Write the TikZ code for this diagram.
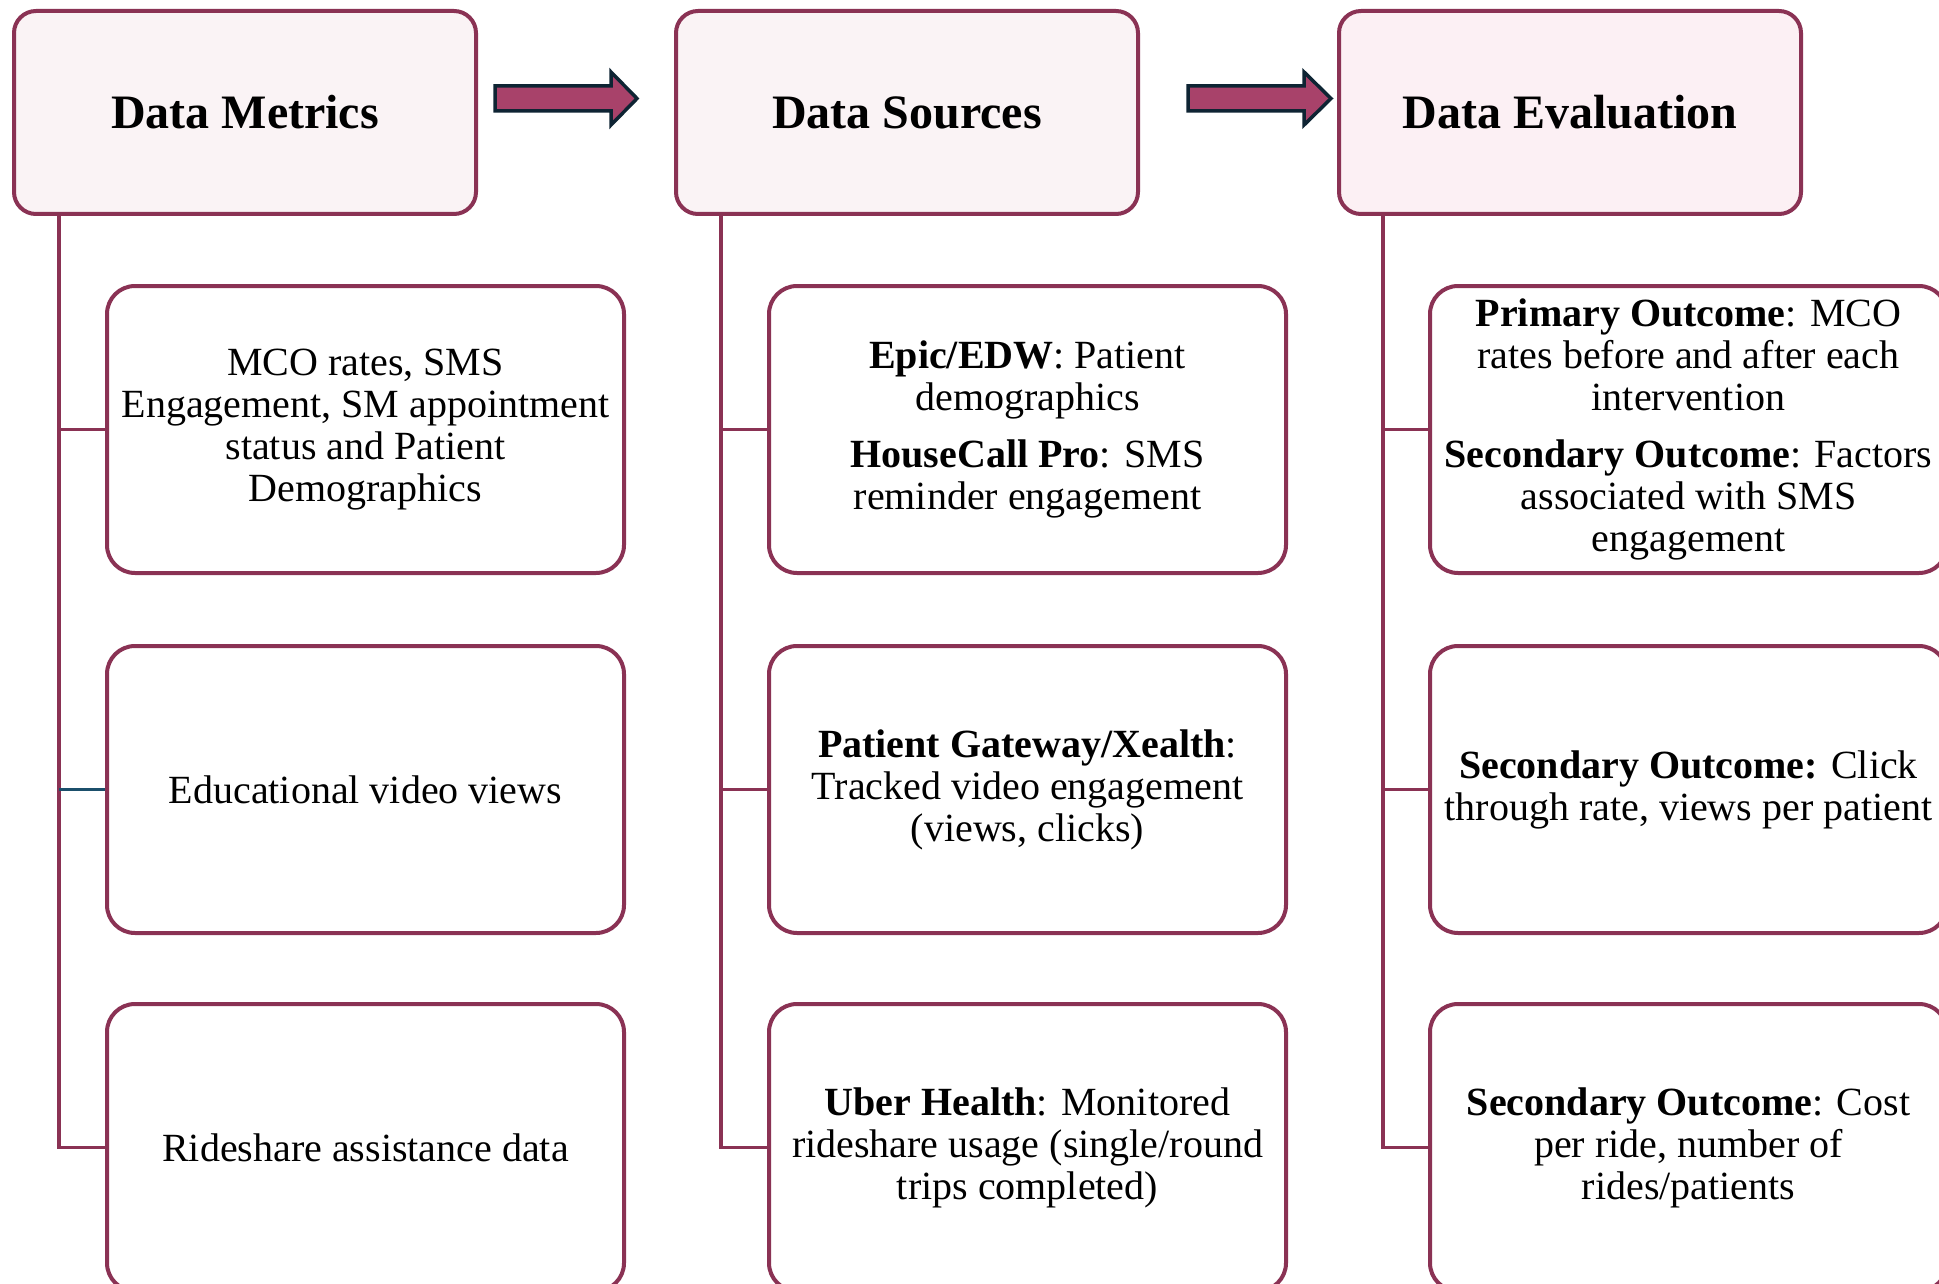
\documentclass[tikz,border=0pt]{standalone}
\usepackage{fontspec}
\setmainfont{Liberation Serif}
\usetikzlibrary{calc}
\definecolor{maroon}{HTML}{8A3254}
\definecolor{headfill}{HTML}{FAF3F5}
\definecolor{headfillb}{HTML}{FCF0F4}
\definecolor{arrowfill}{HTML}{A8426A}
\definecolor{arrowedge}{HTML}{0E2433}
\definecolor{tealline}{HTML}{1B4F6B}
\begin{document}
\begin{tikzpicture}[x=1pt,y=-1pt,
 head/.style={draw=maroon, line width=4pt, rounded corners=22pt, fill=headfill,
   minimum width=462pt, minimum height=203pt, anchor=north west, inner sep=0pt,
   font=\fontsize{48}{50}\selectfont\bfseries},
 itembox/.style={draw=maroon, line width=4pt, rounded corners=28pt, fill=white,
   minimum width=517pt, minimum height=287pt, anchor=north west, inner sep=0pt,
   align=center, font=\fontsize{40}{42}\selectfont},
 link/.style={draw=maroon, line width=3.5pt},
 blockarrow/.style={draw=arrowedge, fill=arrowfill, line width=3.5pt, line join=miter}]
\useasboundingbox (0,0) rectangle (1939,1284);
\clip (0,0) rectangle (1939,1284);

% headers
\node[head] (h1) at (12,9) {Data Metrics};
\node[head] (h2) at (674,9) {Data Sources};
\node[head, fill=headfillb] (h3) at (1337,9) {Data Evaluation};

% block arrows
\draw[blockarrow] (495,86) -- (611,86) -- (611,72) -- (637,98.5) -- (611,125) -- (611,111) -- (495,111) -- cycle;
\draw[blockarrow] (1188,86) -- (1304,86) -- (1304,72) -- (1331,98.5) -- (1304,125) -- (1304,111) -- (1188,111) -- cycle;

% trunk coordinates
\coordinate (t1) at ($(h1.south west)+(47,0)$);
\coordinate (t2) at ($(h2.south west)+(47,0)$);
\coordinate (t3) at ($(h3.south west)+(46,0)$);

% column 1
\node[itembox] (a1) at (105,284) {MCO rates, SMS\\Engagement, SM appointment\\status and Patient\\Demographics};
\node[itembox] (a2) at (105,644) {Educational video views};
\node[itembox] (a3) at (105,1002) {Rideshare assistance data};

% column 2
\node[itembox] (b1) at (767,284) {\textbf{Epic/EDW}: Patient\\demographics\\[15pt]\textbf{HouseCall Pro}: SMS\\reminder engagement};
\node[itembox] (b2) at (767,644) {\textbf{Patient Gateway/Xealth}:\\Tracked video engagement\\(views, clicks)};
\node[itembox] (b3) at (767,1002) {\textbf{Uber Health}: Monitored\\rideshare usage (single/round\\trips completed)};

% column 3
\node[itembox] (c1) at (1428,284) {\textbf{Primary Outcome}: MCO\\rates before and after each\\intervention\\[15pt]\textbf{Secondary Outcome}: Factors\\associated with SMS\\engagement};
\node[itembox] (c2) at (1428,644) {\textbf{Secondary Outcome:} Click\\through rate, views per patient};
\node[itembox] (c3) at (1428,1002) {\textbf{Secondary Outcome}: Cost\\per ride, number of\\rides/patients};

% connectors
\draw[link] (t1) |- (a3.west);
\draw[link] (t1|-a1.west) -- (a1.west);
\draw[link, draw=tealline] (t1|-a2.west) -- (a2.west);

\draw[link] (t2) |- (b3.west);
\draw[link] (t2|-b1.west) -- (b1.west);
\draw[link] (t2|-b2.west) -- (b2.west);

\draw[link] (t3) |- (c3.west);
\draw[link] (t3|-c1.west) -- (c1.west);
\draw[link] (t3|-c2.west) -- (c2.west);
\end{tikzpicture}
\end{document}
